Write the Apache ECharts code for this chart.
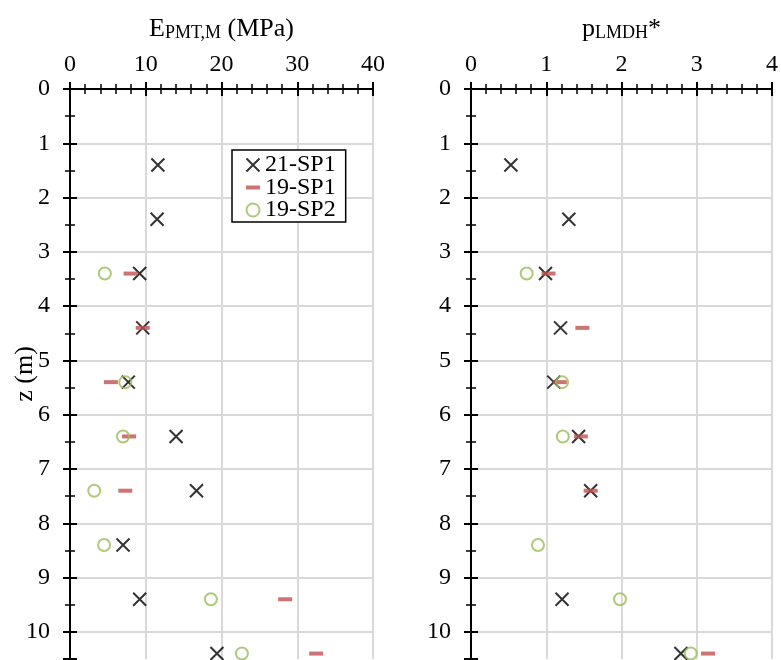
<!DOCTYPE html>
<html>
<head>
<meta charset="utf-8">
<script src="https://cdn.jsdelivr.net/npm/echarts@6/dist/echarts.min.js"></script>
<style>html,body{margin:0;padding:0;background:#fff}#c{width:781px;height:660px}</style>
</head>
<body>
<div id="c"></div>
<script>
// ---- data ----
const seriesNames = ['21-SP1', '19-SP1', '19-SP2'];
const zTicks = [0,1,2,3,4,5,6,7,8,9,10];
const eTicks = [0,10,20,30,40];
const pTicks = [0,1,2,3,4];

// E_PMT,M (MPa)
const E_21SP1_z = [1.4, 2.4, 3.4, 4.4, 5.4, 6.4, 7.4, 8.4, 9.4, 10.4];
const E_21SP1   = [11.6, 11.5, 9.2, 9.6, 7.7, 14.0, 16.7, 7.0, 9.2, 19.4];
const E_19SP1_z = [3.4, 4.4, 5.4, 6.4, 7.4, 9.4, 10.4];
const E_19SP1   = [8.0, 9.6, 5.4, 7.8, 7.3, 28.4, 32.5];
const E_19SP2_z = [3.4, 5.4, 6.4, 7.4, 8.4, 9.4, 10.4];
const E_19SP2   = [4.6, 7.3, 7.0, 3.2, 4.5, 18.6, 22.7];

// p_LMDH*
const P_21SP1_z = [1.4, 2.4, 3.4, 4.4, 5.4, 6.4, 7.4, 9.4, 10.4];
const P_21SP1   = [0.53, 1.30, 0.99, 1.19, 1.10, 1.43, 1.59, 1.21, 2.79];
const P_19SP1_z = [3.4, 4.4, 5.4, 6.4, 7.4, 10.4];
const P_19SP1   = [1.03, 1.48, 1.18, 1.46, 1.59, 3.15];
const P_19SP2_z = [3.4, 5.4, 6.4, 8.4, 9.4, 10.4];
const P_19SP2   = [0.74, 1.21, 1.22, 0.89, 1.98, 2.92];

// ---- styles ----
const FONT = '"Liberation Serif","Times New Roman",serif';
const FS = 24;
const TFS = 26;
const SFS = 18;
const GRIDC = '#d9d9d9';
const RED = '#c0504d';
const GREEN = '#9bbb59';
const XPATH = 'path://M0,0L12,12M12,0L0,12';
const DASHICON = 'path://M0,0M14,12M0,4L14,4L14,8L0,8Z';

const zip = (xs, zs) => xs.map((v, i) => [v, zs[i]]);

function xAxes(g, max, interval, nameRich, nameText) {
  const base = {
    gridIndex: g, type: 'value', position: 'top', min: 0, max: max, interval: interval,
    axisLine: { onZero: false }
  };
  return [
    Object.assign({}, base, {
      name: nameText, nameLocation: 'middle', nameGap: 47, nameMoveOverlap: false,
      nameTextStyle: { rich: nameRich },
      axisLine: { show: true, onZero: false, lineStyle: { color: '#000', width: 2 } },
      axisTick: { show: true, inside: false, length: 7, lineStyle: { color: '#000', width: 2 } },
      minorTick: { show: true, splitNumber: 5, length: 5, lineStyle: { color: '#000', width: 1.5 } },
      axisLabel: { show: true, margin: 12, fontFamily: FONT, fontSize: FS, color: '#000',
        formatter: v => (eTicks.concat(pTicks).indexOf(v) >= 0 ? String(v) : '') },
      splitLine: { show: true, lineStyle: { color: GRIDC, width: 2 } }
    }),
    Object.assign({}, base, {
      axisLine: { show: false, onZero: false },
      axisTick: { show: true, inside: true, length: 7, lineStyle: { color: '#000', width: 2 } },
      minorTick: { show: true, splitNumber: 5, length: 5, lineStyle: { color: '#000', width: 1.5 } },
      axisLabel: { show: false },
      splitLine: { show: false }
    })
  ];
}

function yAxes(g, withName) {
  const base = {
    gridIndex: g, type: 'value', position: 'left', inverse: true, min: 0, max: 10.5,
    axisLine: { show: false, onZero: false }, axisLabel: { show: false }, splitLine: { show: false }
  };
  const main = Object.assign({}, base, {
    interval: 1,
    axisLine: { show: true, onZero: false, lineStyle: { color: '#000', width: 2 } },
    axisTick: { show: true, inside: false, length: 7, lineStyle: { color: '#000', width: 2 } },
    axisLabel: { show: true, margin: 20, fontFamily: FONT, fontSize: FS, color: '#000',
      formatter: v => (zTicks.indexOf(v) >= 0 ? String(v) : '') },
    splitLine: { show: true, showMaxLine: false, lineStyle: { color: GRIDC, width: 2 } }
  });
  if (withName) {
    Object.assign(main, {
      name: 'z (m)', nameLocation: 'middle', nameGap: 32, nameMoveOverlap: false,
      nameTextStyle: { fontFamily: FONT, fontSize: TFS, color: '#000' }
    });
  }
  return [
    main,
    Object.assign({}, base, { interval: 1,
      axisTick: { show: true, inside: true, length: 7, lineStyle: { color: '#000', width: 2 } } }),
    Object.assign({}, base, { interval: 0.5,
      axisTick: { show: true, inside: false, length: 5, lineStyle: { color: '#000', width: 1.5 } } }),
    Object.assign({}, base, { interval: 0.5,
      axisTick: { show: true, inside: true, length: 5, lineStyle: { color: '#000', width: 1.5 } } })
  ];
}

const richE = {
  a: { fontFamily: FONT, fontSize: TFS, color: '#000', lineHeight: 28, verticalAlign: 'bottom' },
  b: { fontFamily: FONT, fontSize: SFS, color: '#000', lineHeight: 19, verticalAlign: 'bottom' }
};
const richP = {
  a: { fontFamily: FONT, fontSize: TFS, color: '#000', lineHeight: 28, verticalAlign: 'bottom' },
  b: { fontFamily: FONT, fontSize: SFS, color: '#000', lineHeight: 16, verticalAlign: 'bottom' },
  c: { fontFamily: FONT, fontSize: TFS, color: '#000', lineHeight: 28, verticalAlign: 'bottom' }
};

function mk(name, data, xi, yi) {
  const s = { name: name, type: 'scatter', data: data, xAxisIndex: xi, yAxisIndex: yi,
    silent: true, emphasis: { disabled: true }, z: 3 };
  if (name === '21-SP1') {
    s.symbol = XPATH; s.symbolSize = 13;
    s.itemStyle = { color: 'none', borderColor: '#000', borderWidth: 2 };
  } else if (name === '19-SP1') {
    s.symbol = 'rect'; s.symbolSize = [14, 4];
    s.itemStyle = { color: RED };
  } else {
    s.symbol = 'circle'; s.symbolSize = 12;
    s.itemStyle = { color: 'none', borderColor: GREEN, borderWidth: 2 };
  }
  return s;
}

const chart = echarts.init(document.getElementById('c'), null, { renderer: 'canvas' });
chart.setOption({
  animation: false,
  backgroundColor: '#fff',
  grid: [
    { left: 70, right: 408, top: 89, bottom: 1, containLabel: false },
    { left: 471, right: 8, top: 89, bottom: 1, containLabel: false }
  ],
  xAxis: [].concat(
    xAxes(0, 40, 10, richE, '{a|E}{b|PMT,M}{a| (MPa)}'),
    xAxes(1, 4, 1, richP, '{a|p}{b|LMDH}{c|*}')
  ),
  yAxis: [].concat(yAxes(0, true), yAxes(1, false)),
  legend: {
    left: 232, top: 150, orient: 'vertical',
    backgroundColor: '#fff', borderColor: '#000', borderWidth: 1.5,
    padding: [3, 10, 0, 12], itemGap: -1.5, itemWidth: 14, itemHeight: 13, itemTextGap: 4,
    textStyle: { fontFamily: FONT, fontSize: FS, color: '#000', lineHeight: 22 },
    selectedMode: false,
    data: [
      { name: seriesNames[0], icon: XPATH, itemStyle: { color: 'none', borderColor: '#000', borderWidth: 2 } },
      { name: seriesNames[1], icon: DASHICON, itemStyle: { color: RED, borderWidth: 0 } },
      { name: seriesNames[2], icon: 'circle', itemStyle: { color: 'none', borderColor: GREEN, borderWidth: 2 } }
    ]
  },
  series: [
    mk(seriesNames[0], zip(E_21SP1, E_21SP1_z), 0, 0),
    mk(seriesNames[1], zip(E_19SP1, E_19SP1_z), 0, 0),
    mk(seriesNames[2], zip(E_19SP2, E_19SP2_z), 0, 0),
    mk(seriesNames[0], zip(P_21SP1, P_21SP1_z), 2, 4),
    mk(seriesNames[1], zip(P_19SP1, P_19SP1_z), 2, 4),
    mk(seriesNames[2], zip(P_19SP2, P_19SP2_z), 2, 4)
  ]
});
</script>
</body>
</html>
